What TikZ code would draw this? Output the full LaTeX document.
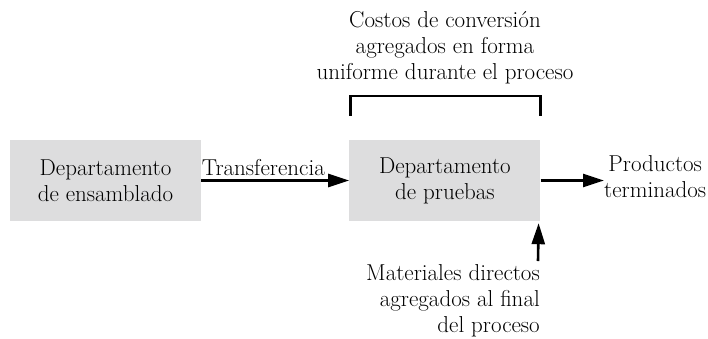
\documentclass[tikz,border=0pt]{standalone}
\usetikzlibrary{arrows.meta,positioning}
\definecolor{boxgray}{RGB}{221,221,222}

\begin{document}
\begin{tikzpicture}[x=1pt,y=-1pt,node distance=148pt, dept/.style={fill=boxgray,minimum width=191pt,minimum height=81pt,align=center,inner sep=0pt}, txt/.style={align=center,inner sep=0pt}, flow/.style={-{Triangle[length=21pt,width=13pt]},line width=2.6pt}, font=\fontsize{23}{26}\selectfont]
\useasboundingbox (0,0) rectangle (708,338);
\node[dept] (ens) at (105.5,180.5) {Departamento\\ de ensamblado};
\node[dept,right=of ens] (pru) {Departamento\\ de pruebas};
\node[txt,anchor=west] (prod) at (604,177) {Productos\\ terminados};
\node[txt,anchor=north east,align=right] (mat) at (540,264) {Materiales directos\\ agregados al final\\ del proceso};
\node[txt,anchor=south] (conv) at (445,84) {Costos de conversión\\ agregados en forma\\ uniforme durante el proceso};
\draw[flow] (ens) -- node[pos=0.42,above=4pt,inner sep=0pt]{Transferencia} (pru);
\draw[flow] (pru) -- (pru -| prod.west);
\draw[flow] ([xshift=-2pt,yshift=3pt]mat.north east) -- ([xshift=-2pt,yshift=-2pt]pru.south east);
% bracket over the testing department
\draw[line width=2.6pt] ([xshift=1pt,yshift=24pt]pru.north west) |- ([yshift=44pt]pru.north east) -- ([yshift=24pt]pru.north east);
\end{tikzpicture}
\end{document}
